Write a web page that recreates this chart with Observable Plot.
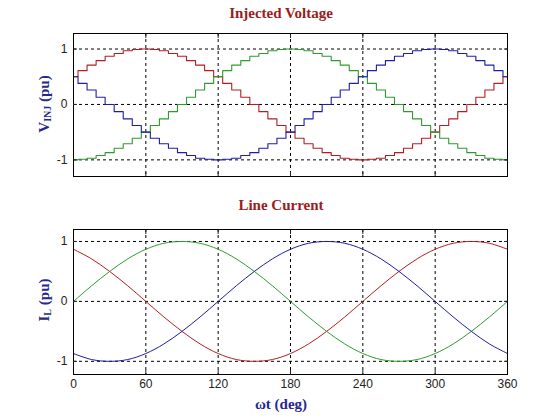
<!DOCTYPE html>
<html><head><meta charset="utf-8">
<script src="https://cdn.jsdelivr.net/npm/d3@7"></script>
<script src="https://cdn.jsdelivr.net/npm/@observablehq/plot@0.6"></script>
<style>
body{margin:0;background:#fff;}
#chart{width:560px;height:420px;position:relative;background:#fff;}
#chart svg{display:block;overflow:visible;}
</style></head><body><div id="chart"></div>
<script>
// ---- Injected voltage (staircase), sampled every 7.5 deg ----
const stepAngles = [0,7.5,15,22.5,30,37.5,45,52.5,60,67.5,75,82.5,90,97.5,105,112.5,120,127.5,135,142.5,150,157.5,165,172.5,180,187.5,195,202.5,210,217.5,225,232.5,240,247.5,255,262.5,270,277.5,285,292.5,300,307.5,315,322.5,330,337.5,345,352.5,360];
const vRed   = [0.5,0.61,0.71,0.79,0.87,0.92,0.97,0.99,1,0.99,0.97,0.92,0.87,0.79,0.71,0.61,0.5,0.38,0.26,0.13,0,-0.13,-0.26,-0.38,-0.5,-0.61,-0.71,-0.79,-0.87,-0.92,-0.97,-0.99,-1,-0.99,-0.97,-0.92,-0.87,-0.79,-0.71,-0.61,-0.5,-0.38,-0.26,-0.13,0,0.13,0.26,0.38,0.5];
const vGreen = [-1,-0.99,-0.97,-0.92,-0.87,-0.79,-0.71,-0.61,-0.5,-0.38,-0.26,-0.13,0,0.13,0.26,0.38,0.5,0.61,0.71,0.79,0.87,0.92,0.97,0.99,1,0.99,0.97,0.92,0.87,0.79,0.71,0.61,0.5,0.38,0.26,0.13,0,-0.13,-0.26,-0.38,-0.5,-0.61,-0.71,-0.79,-0.87,-0.92,-0.97,-0.99,-1];
const vBlue  = [0.5,0.38,0.26,0.13,0,-0.13,-0.26,-0.38,-0.5,-0.61,-0.71,-0.79,-0.87,-0.92,-0.97,-0.99,-1,-0.99,-0.97,-0.92,-0.87,-0.79,-0.71,-0.61,-0.5,-0.38,-0.26,-0.13,0,0.13,0.26,0.38,0.5,0.61,0.71,0.79,0.87,0.92,0.97,0.99,1,0.99,0.97,0.92,0.87,0.79,0.71,0.61,0.5];

// ---- Line current, read every 15 deg ----
const curAngles = [0,15,30,45,60,75,90,105,120,135,150,165,180,195,210,225,240,255,270,285,300,315,330,345,360];
const iRed   = [0.87,0.71,0.5,0.26,0,-0.26,-0.5,-0.71,-0.87,-0.97,-1,-0.97,-0.87,-0.71,-0.5,-0.26,0,0.26,0.5,0.71,0.87,0.97,1,0.97,0.87];
const iGreen = [0,0.26,0.5,0.71,0.87,0.97,1,0.97,0.87,0.71,0.5,0.26,0,-0.26,-0.5,-0.71,-0.87,-0.97,-1,-0.97,-0.87,-0.71,-0.5,-0.26,0];
const iBlue  = [-0.87,-0.97,-1,-0.97,-0.87,-0.71,-0.5,-0.26,0,0.26,0.5,0.71,0.87,0.97,1,0.97,0.87,0.71,0.5,0.26,0,-0.26,-0.5,-0.71,-0.87];

const phases = ["a","b","c"];
const phaseColors = ["#b41e23","#2e9b2e","#1e1ea5"];
const xTicks = [0,60,120,180,240,300,360];
const xGrid = [60,120,180,240,300];
const yTicks = [-1,0,1];

const titleTop = "Injected Voltage";
const titleBottom = "Line Current";
const xLabel = "ωt (deg)";

const toRows = (xs, series) => series.flatMap((vals, s) => vals.map((v, i) => ({x: xs[i], v, phase: phases[s]})));
const voltRows = toRows(stepAngles, [vRed, vGreen, vBlue]);
const curRows = toRows(curAngles, [iRed, iGreen, iBlue]);

const gridStyle = {stroke: "#000", strokeOpacity: 1, strokeWidth: 1, strokeDasharray: "3,3"};
const fmt = d => String(d);
const blank = () => "";
const common = {
  width: 560, marginLeft: 73, marginRight: 53,
  style: {fontFamily: "Arial, 'Liberation Sans', sans-serif", fontSize: "12px", color: "#222", background: "transparent", overflow: "visible"},
  x: {domain: [0, 360]},
  color: {domain: phases, range: phaseColors}
};
// inward MATLAB-style tick marks on all four sides
const inwardTicks = () => [
  Plot.axisX(xGrid, {anchor: "bottom", tickSize: -4, tickFormat: blank, label: null, strokeOpacity: 1}),
  Plot.axisX(xGrid, {anchor: "top", tickSize: -4, tickFormat: blank, label: null, strokeOpacity: 1}),
  Plot.axisY(yTicks, {anchor: "left", tickSize: -4, tickFormat: blank, label: null, strokeOpacity: 1}),
  Plot.axisY(yTicks, {anchor: "right", tickSize: -4, tickFormat: blank, label: null, strokeOpacity: 1})
];

const p1 = Plot.plot({
  ...common, height: 190, marginTop: 33, marginBottom: 14,
  y: {domain: [-1.3, 1.28]},
  marks: [
    Plot.gridX(xGrid, gridStyle),
    Plot.gridY(yTicks, gridStyle),
    Plot.line(voltRows, {x: "x", y: "v", z: "phase", stroke: "phase", curve: "step", strokeWidth: 1.1}),
    Plot.frame({stroke: "#000", strokeWidth: 1}),
    ...inwardTicks(),
    Plot.axisY(yTicks, {anchor: "left", tickSize: 0, tickPadding: 6, label: null, fontSize: 12, tickFormat: fmt})
  ]
});

const p2 = Plot.plot({
  ...common, height: 230, marginTop: 39, marginBottom: 46,
  y: {domain: [-1.22, 1.2]},
  marks: [
    Plot.gridX(xGrid, gridStyle),
    Plot.gridY(yTicks, gridStyle),
    Plot.line(curRows, {x: "x", y: "v", z: "phase", stroke: "phase", curve: "catmull-rom", strokeWidth: 1}),
    Plot.frame({stroke: "#000", strokeWidth: 1}),
    ...inwardTicks(),
    Plot.axisY(yTicks, {anchor: "left", tickSize: 0, tickPadding: 6, label: null, fontSize: 12, tickFormat: fmt}),
    Plot.axisX(xTicks, {anchor: "bottom", tickSize: 0, tickPadding: 5, label: null, fontSize: 12, tickFormat: fmt})
  ]
});

const chart = document.getElementById("chart");
chart.appendChild(p1);
chart.appendChild(p2);

const serif = "'Liberation Serif', 'Times New Roman', serif";
function addTitle(svg, text, y) {
  d3.select(svg).append("text")
    .attr("x", 281).attr("y", y).attr("text-anchor", "middle")
    .attr("font-family", serif).attr("font-weight", "bold").attr("font-size", 15)
    .attr("fill", "#9b1c1c").text(text);
}
function addYLabel(svg, main, sub, cy) {
  const t = d3.select(svg).append("text")
    .attr("transform", `translate(49,${cy}) rotate(-90)`)
    .attr("text-anchor", "middle")
    .attr("font-family", serif).attr("font-weight", "bold").attr("font-size", 15)
    .attr("fill", "#28288c");
  t.append("tspan").text(main);
  t.append("tspan").attr("font-size", 10).attr("dy", 2).text(sub);
  t.append("tspan").attr("dy", -2).text(" (pu)");
}
addTitle(p1, titleTop, 18);
addYLabel(p1, "V", "INJ", 104);
addTitle(p2, titleBottom, 20);
addYLabel(p2, "I", "L", 110);
d3.select(p2).append("text")
  .attr("x", 281).attr("y", 219).attr("text-anchor", "middle")
  .attr("font-family", serif).attr("font-weight", "bold").attr("font-size", 15)
  .attr("fill", "#28288c").text(xLabel);
</script></body></html>
